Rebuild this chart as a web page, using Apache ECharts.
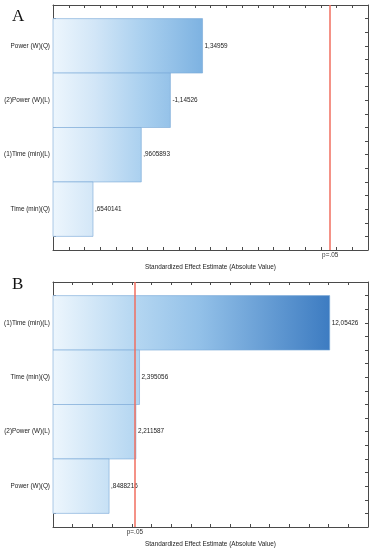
<!DOCTYPE html>
<html>
<head>
<meta charset="utf-8">
<script src="https://cdn.jsdelivr.net/npm/echarts@6/dist/echarts.min.js"></script>
<style>
html, body { margin: 0; padding: 0; background: #fff; }
#chart { width: 376px; height: 557px; }
</style>
</head>
<body>
<div id="chart"></div>
<script>
// panel A
let effectsA = ['Power (W)(Q)', '(2)Power (W)(L)', '(1)Time (min)(L)', 'Time (min)(Q)'];
let valuesA = [1.34959, -1.14526, 0.9605893, 0.6540141];
// panel B
let effectsB = ['(1)Time (min)(L)', 'Time (min)(Q)', '(2)Power (W)(L)', 'Power (W)(Q)'];
let valuesB = [12.05426, 2.395056, 2.211587, 0.8488216];

let pCritical = 2.16;
let pLabel = 'p=.05';
let axisTitle = 'Standardized Effect Estimate (Absolute Value)';
// x scale of each panel: [min, max, tick step]
let scaleA = [0.4, 2.4, 0.1];
let scaleB = [-2, 14, 1];

const FONT = '"Liberation Sans", Arial, sans-serif';
const FS = 6.4;
const AXIS_COLOR = '#4a4a4a';

// statistica style number: 0.96 -> ,96   1.3 -> 1,3
function fmt(v) {
    let s = String(v);
    s = s.replace(/^(-?)0\./, '$1.');
    return s.replace('.', ',');
}

function toData(values) {
    let n = values.length;
    return values.map(function (v, i) { return [Math.abs(v), n - 1 - i, v]; });
}

function makeRender(xMin, fill) {
    return function (params, api) {
        let v = api.value(0);
        let y = api.value(1);
        let p0 = api.coord([xMin, y + 0.5]);
        let p1 = api.coord([v, y - 0.5]);
        return {
            type: 'group',
            children: [
                {
                    type: 'rect',
                    shape: { x: p0[0], y: p0[1], width: p1[0] - p0[0], height: p1[1] - p0[1] },
                    style: { fill: fill, stroke: 'rgba(120,168,214,0.75)', lineWidth: 0.8 }
                },
                {
                    type: 'text',
                    x: p1[0] + 2,
                    y: (p0[1] + p1[1]) / 2,
                    style: {
                        text: fmt(api.value(2)),
                        font: FS + 'px ' + FONT,
                        fill: '#222',
                        verticalAlign: 'middle'
                    }
                }
            ]
        };
    };
}

let gradA = new echarts.graphic.LinearGradient(53, 0, 331, 0, [
    { offset: 0, color: '#edf6fd' },
    { offset: 0.15, color: '#d2e6f7' },
    { offset: 0.32, color: '#aad0ef' },
    { offset: 0.54, color: '#7db2e1' },
    { offset: 1, color: '#3c7bc1' }
], true);
let gradB = new echarts.graphic.LinearGradient(53, 0, 331, 0, [
    { offset: 0, color: '#edf6fd' },
    { offset: 0.3, color: '#b4d6f1' },
    { offset: 0.53, color: '#92c0e8' },
    { offset: 1, color: '#3c7bc1' }
], true);

function xAxes(grid, scale) {
    let base = {
        type: 'value',
        gridIndex: grid,
        min: scale[0],
        max: scale[1],
        interval: scale[2],
        axisLine: { show: true, onZero: false, lineStyle: { color: AXIS_COLOR, width: 1 } },
        axisTick: { show: true, inside: true, length: 3, lineStyle: { color: AXIS_COLOR } },
        axisLabel: { show: false },
        splitLine: { show: false }
    };
    let bottom = Object.assign({}, base, {
        position: 'bottom',
        name: axisTitle,
        nameLocation: 'middle',
        nameGap: 14,
        nameTextStyle: { fontSize: FS, color: '#222', fontFamily: FONT }
    });
    let top = Object.assign({}, base, { position: 'top' });
    return [bottom, top];
}

function yAxes(grid, effects) {
    let n = effects.length;
    let base = {
        type: 'value',
        gridIndex: grid,
        min: -0.75,
        max: n - 0.25,
        interval: 0.25,
        axisLine: { show: true, onZero: false, lineStyle: { color: AXIS_COLOR, width: 1 } },
        axisTick: { show: true, inside: true, length: 3, lineStyle: { color: AXIS_COLOR } },
        splitLine: { show: false }
    };
    let left = Object.assign({}, base, {
        position: 'left',
        axisLabel: {
            show: true,
            margin: 3,
            fontSize: FS,
            color: '#222',
            fontFamily: FONT,
            formatter: function (val) {
                return Number.isInteger(val) ? effects[n - 1 - val] : '';
            }
        }
    });
    let right = Object.assign({}, base, { position: 'right', axisLabel: { show: false } });
    return [left, right];
}

function pLine() {
    return {
        silent: true,
        symbol: 'none',
        animation: false,
        lineStyle: { color: '#f06e5f', width: 1.5, type: 'solid' },
        label: { show: true, position: 'start', formatter: pLabel, fontSize: FS, color: '#333', fontFamily: FONT, distance: 2 },
        data: [{ xAxis: pCritical }]
    };
}

let chart = echarts.init(document.getElementById('chart'));

let option = {
    animation: false,
    graphic: [
        { type: 'text', left: 12, top: 8, style: { text: 'A', font: '17px "Liberation Serif", serif', fill: '#111' } },
        { type: 'text', left: 12, top: 276, style: { text: 'B', font: '17px "Liberation Serif", serif', fill: '#111' } }
    ],
    grid: [
        { left: 53, top: 5, width: 315, height: 245, outerBoundsMode: 'none' },
        { left: 53, top: 282, width: 315, height: 245, outerBoundsMode: 'none' }
    ],
    xAxis: xAxes(0, scaleA).concat(xAxes(1, scaleB)),
    yAxis: yAxes(0, effectsA).concat(yAxes(1, effectsB)),
    series: [
        {
            type: 'custom',
            xAxisIndex: 0,
            yAxisIndex: 0,
            renderItem: makeRender(scaleA[0], gradA),
            encode: { x: 0, y: 1 },
            data: toData(valuesA),
            markLine: pLine()
        },
        {
            type: 'custom',
            xAxisIndex: 2,
            yAxisIndex: 2,
            renderItem: makeRender(scaleB[0], gradB),
            encode: { x: 0, y: 1 },
            data: toData(valuesB),
            markLine: pLine()
        }
    ]
};

chart.setOption(option);
</script>
</body>
</html>
